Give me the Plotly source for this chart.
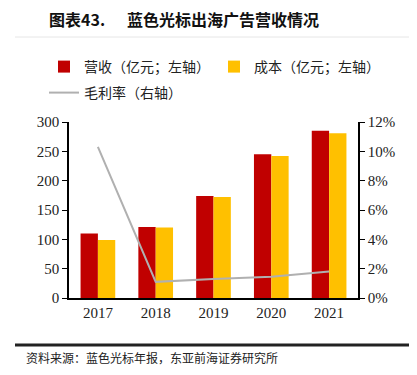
import plotly.graph_objects as go

years = ["2017", "2018", "2019", "2020", "2021"]
revenue = [110, 121, 174, 245, 285]
cost = [99, 120, 172, 242, 281]
margin_pct = [10.3, 1.1, 1.3, 1.45, 1.8]

left_ticks = [0, 50, 100, 150, 200, 250, 300]
right_ticks = [0, 2, 4, 6, 8, 10, 12]
right_labels = [f"{v}%" for v in right_ticks]

W, H = 417, 375
OFF = 8  # page body margin offset
# target plot area on screen: x 69..358, y 122..298
L = 69 - OFF
T = 122 - OFF
R = W - (358 - OFF)
B = H - (298 - OFF)

cjk = "Noto Sans CJK SC"
serif = "Liberation Serif"

fig = go.Figure()
fig.add_trace(go.Bar(x=years, y=revenue, name="营收（亿元；左轴）",
                     marker=dict(color="#C00000", line=dict(width=0)), legend="legend"))
fig.add_trace(go.Bar(x=years, y=cost, name="成本（亿元；左轴）",
                     marker=dict(color="#FFC000", line=dict(width=0)), legend="legend2"))
fig.add_trace(go.Scatter(x=years, y=margin_pct, name="毛利率（右轴）", yaxis="y2",
                         mode="lines", line=dict(color="#B0B0B0", width=2), legend="legend3"))

def px_x(px):
    return (px - OFF - L) / (W - L - R)

def px_y(py):
    return (H - B - (py - OFF)) / (H - T - B)

legfont = dict(family=cjk, size=14, color="#222")

def leg(xp, yp):
    return dict(orientation="h", x=px_x(xp), y=px_y(yp), xanchor="left", yanchor="middle",
                font=legfont, bgcolor="rgba(0,0,0,0)")

fig.update_layout(
    width=W, height=H,
    margin=dict(l=L, r=R, t=T, b=B, autoexpand=False),
    paper_bgcolor="white", plot_bgcolor="white",
    barmode="group", bargap=0.4, bargroupgap=0,
    showlegend=True,
    legend=leg(44, 67),
    legend2=leg(214, 67),
    legend3=leg(44, 93),
    xaxis=dict(showline=True, linecolor="black", linewidth=1.5, ticks="",
               tickfont=dict(family=serif, size=15, color="#222"), showgrid=False),
    yaxis=dict(range=[0, 300], tickvals=left_ticks, showline=True, linecolor="black",
               linewidth=1.5, ticks="outside", ticklen=5, tickcolor="black",
               tickfont=dict(family=serif, size=15, color="#222"), showgrid=False,
               zeroline=False),
    yaxis2=dict(range=[0, 12], tickvals=right_ticks, ticktext=right_labels,
                overlaying="y", side="right", showline=True, linecolor="black",
                linewidth=1.5, ticks="outside", ticklen=5, tickcolor="black",
                tickfont=dict(family=serif, size=15, color="#222"), showgrid=False,
                zeroline=False),
    font=dict(family=cjk),
)

fig.add_annotation(text="<b>图表43.</b>", xref="paper", yref="paper",
                   x=px_x(48), y=px_y(19), xanchor="left", yanchor="middle", showarrow=False,
                   borderpad=0, font=dict(family=cjk, size=16, color="#111"))
fig.add_annotation(text="<b>蓝色光标出海广告营收情况</b>", xref="paper", yref="paper",
                   x=px_x(126), y=px_y(19), xanchor="left", yanchor="middle", showarrow=False,
                   borderpad=0, font=dict(family=cjk, size=16, color="#111"))
fig.add_annotation(text="资料来源：蓝色光标年报，东亚前海证券研究所", xref="paper", yref="paper",
                   x=px_x(24), y=px_y(357), xanchor="left", yanchor="middle", showarrow=False,
                   font=dict(family=cjk, size=12, color="#222"))
fig.add_shape(type="line", xref="paper", yref="paper", x0=px_x(15), x1=px_x(425),
              y0=px_y(37), y1=px_y(37), line=dict(color="#E6E6E6", width=1))
fig.add_shape(type="line", xref="paper", yref="paper", x0=px_x(15), x1=px_x(425),
              y0=px_y(345), y1=px_y(345), line=dict(color="#222", width=3))

fig.write_html("out.html")
